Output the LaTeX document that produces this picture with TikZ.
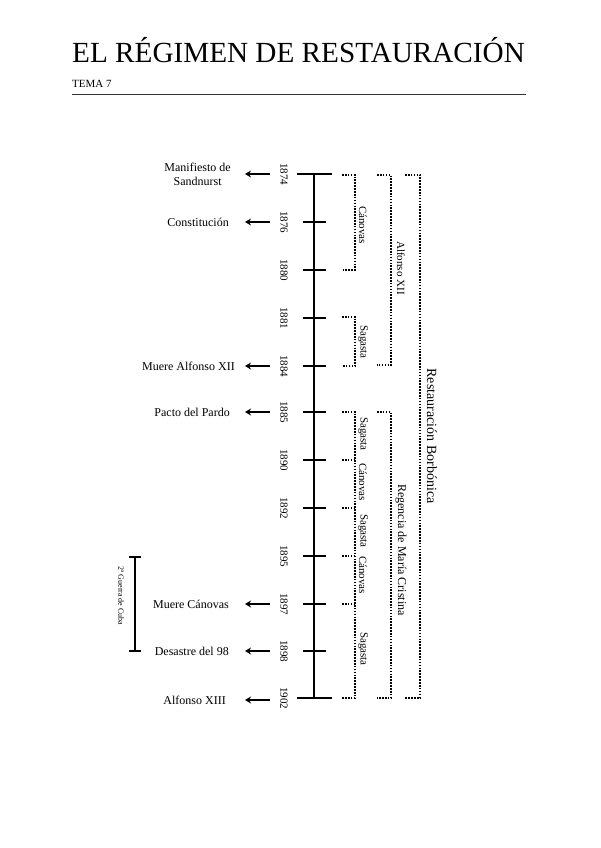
\documentclass[tikz,border=0pt]{standalone}
\usepackage{fontspec}
\setmainfont{Liberation Serif}
\usetikzlibrary{arrows.meta}
\begin{document}
\begin{tikzpicture}[x=1pt,y=-1pt,
  axis/.style={line width=2pt},
  tickmark/.style={line width=1.8pt},
  yr/.style={rotate=-90,font=\fontsize{11}{12}\selectfont,inner sep=0pt},
  ev/.style={anchor=east,font=\fontsize{12}{14}\selectfont,inner sep=0pt,align=center},
  arr/.style={line width=1.8pt,-{Stealth[length=6pt,width=7pt]}},
  dots/.style={line width=1.6pt,dash pattern=on 1.6pt off 1.3pt},
  blab/.style={rotate=-90,font=\fontsize{11}{12}\selectfont,inner sep=0pt},
  biglab/.style={rotate=-90,font=\fontsize{14}{16}\selectfont,inner sep=0pt},
]
\useasboundingbox (0,0) rectangle (600,848);
\fill[white] (0,0) rectangle (600,848);

% header
\node[anchor=base west,inner sep=0pt,font=\fontsize{29.2}{32}\selectfont] (title) at (72,63) {EL RÉGIMEN DE RESTAURACIÓN};
\node[anchor=base west,inner sep=0pt,font=\fontsize{11}{12}\selectfont] (tema) at (72,88) {TEMA 7};
\draw[line width=1pt,black!80] (72,95) -- (526,95);

% axis
\coordinate (top) at (314,174);
\coordinate (bot) at (314,698);
\draw[axis] (top) -- (bot);
\draw[tickmark] (297,174) -- (332,174);
\draw[tickmark] (297,698) -- (332,698);
\foreach \y in {222,270,318,366,412,460,508,556,604,651}{
  \draw[tickmark] (303,\y) -- (326,\y);
}

% years
\foreach \yy/\y in {1874/174,1876/222,1880/270,1881/318,1884/366,1885/412,1890/460,1892/508,1895/556,1897/604,1898/651,1902/698}{
  \node[yr] (y\yy) at (284,\y) {\yy};
}

% events
\foreach \n/\y/\xe/\t in {
  e1/174/231/{Manifiesto de\\Sandnurst},
  e2/222/229/{Constitución},
  e3/366/235/{Muere Alfonso XII},
  e4/412/230/{Pacto del Pardo},
  e5/604/229/{Muere Cánovas},
  e6/651/229/{Desastre del 98},
  e7/700/226/{Alfonso XIII}}{
  \coordinate (\n s) at (270,\y);
  \coordinate (\n t) at (245,\y);
  \draw[arr] (\n s) -- (\n t);
  \node[ev] (\n) at (\xe,\y) {\t};
}

% column A brackets (x=355)
\draw[dots] (342,175) -- (355,175) -- (355,270) -- (342,270);
\node[blab] (canA) at (363,225) {Cánovas};
\draw[dots] (342,317) -- (355,317) -- (355,366) -- (342,366);
\node[blab] (sagA) at (363,342) {Sagasta};
\draw[dots] (342,412) -- (355,412) -- (355,698) -- (342,698);
\foreach \y in {460,508,556,604}{
  \draw[dots] (342,\y) -- (355,\y);
}
\node[blab] (s1) at (363,434) {Sagasta};
\node[blab] (c1) at (363,482) {Cánovas};
\node[blab] (s2) at (363,531) {Sagasta};
\node[blab] (c2) at (363,575) {Cánovas};
\node[blab] (s3) at (363,649) {Sagasta};

% column B brackets (x=391)
\draw[dots] (377,175) -- (391,175) -- (391,365) -- (377,365);
\node[blab] (alf) at (401,268) {Alfonso XII};
\draw[dots] (377,412) -- (391,412) -- (391,698) -- (377,698);
\node[blab,font=\fontsize{12}{13}\selectfont] (reg) at (401,550) {Regencia de María Cristina};

% column C bracket (x=420)
\draw[dots] (405,175) -- (420,175) -- (420,698) -- (405,698);
\node[biglab] (rest) at (432,436) {Restauración Borbónica};

% guerra de Cuba
\coordinate (g1) at (135,557);
\coordinate (g2) at (135,651);
\draw[line width=1.8pt] (g1) -- (g2);
\draw[line width=1.8pt] (129,557) -- (141,557);
\draw[line width=1.8pt] (129,651) -- (141,651);
\node[rotate=-90,font=\fontsize{8}{9}\selectfont,inner sep=0pt] (guerra) at (121,596) {2ª Guerra de Cuba};
\end{tikzpicture}
\end{document}
